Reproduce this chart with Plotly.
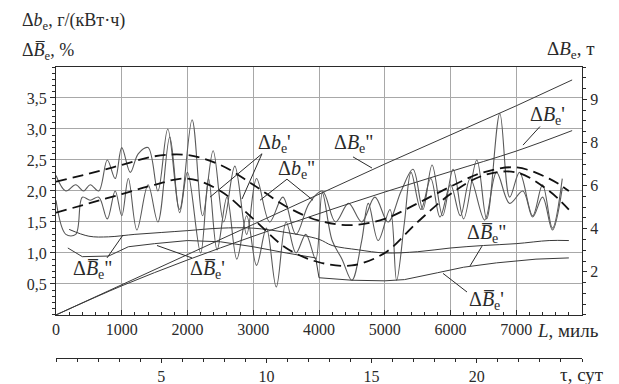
import plotly.graph_objects as go

# ---------------- data ----------------
# distance run, miles
L_TREND = [0, 500, 1000, 1500, 2000, 2500, 3000, 3500, 4000, 4500, 5000,
           5500, 6000, 6500, 7000, 7500, 7800]
# smoothed trends of specific fuel consumption deviation, g/(kW*h)
db1_trend = [2.15, 2.28, 2.42, 2.56, 2.58, 2.42, 2.1, 1.75, 1.52, 1.45, 1.55,
             1.8, 2.07, 2.3, 2.38, 2.2, 2.0]
db2_trend = [1.65, 1.8, 1.95, 2.1, 2.2, 2.0, 1.55, 1.08, 0.85, 0.8, 1.0,
             1.5, 1.95, 2.25, 2.3, 2.0, 1.7]

# measured specific fuel consumption deviation, g/(kW*h)
L_W1 = [0, 150, 300, 420, 520, 650, 780, 900, 1000, 1130, 1250, 1400, 1550,
        1700, 1880, 2070, 2230, 2390, 2550, 2720, 2900, 3050, 3250, 3450,
        3650, 3850, 4050, 4250, 4450, 4650, 4850, 5050, 5250, 5430, 5580,
        5720, 5880, 6040, 6200, 6400, 6550, 6750, 6900, 7050, 7250, 7400,
        7550, 7700]
db1 = [2.25, 2.0, 2.1, 2.0, 2.1, 2.0, 2.5, 2.2, 2.7, 2.3, 2.6, 2.7, 2.0,
       3.0, 1.7, 3.15, 1.6, 2.65, 1.5, 2.4, 1.3, 2.2, 1.5, 1.9, 1.3, 1.8,
       2.0, 1.5, 1.8, 1.5, 1.9, 1.5, 2.0, 2.35, 1.7, 2.42, 1.6, 2.35, 1.55,
       2.5, 1.55, 3.25, 1.9, 2.3, 1.6, 2.1, 1.4, 2.2]

L_W2 = [0, 150, 300, 400, 520, 650, 780, 900, 1000, 1100, 1230, 1400, 1550,
        1730, 1880, 2000, 2200, 2320, 2450, 2600, 2750, 2900, 3050, 3200,
        3350, 3500, 3650, 3800, 3950, 4050, 4200, 4350, 4500, 4650, 4750,
        4900, 5080, 5180, 5300, 5400, 5550, 5700, 5840, 6000, 6150, 6300,
        6520, 6700, 6900, 7100, 7250, 7400, 7550, 7700]
db2 = [1.85, 1.3, 1.3, 1.9, 1.85, 1.9, 1.55, 2.0, 1.6, 2.2, 1.37, 2.1, 1.5,
       2.87, 1.65, 2.3, 1.0, 2.2, 1.05, 1.9, 0.9, 1.6, 0.8, 1.4, 0.45, 1.5,
       1.0, 1.3, 0.9, 1.97, 1.2, 0.9, 0.56, 1.2, 1.8, 1.2, 1.7, 0.56, 1.5,
       2.3, 1.7, 2.2, 1.58, 2.1, 1.6, 2.2, 1.53, 2.3, 1.8, 2.0, 1.58, 1.9,
       1.37, 2.05]

# relative fuel overconsumption, %
L_BB2 = [200, 500, 800, 1200, 1600, 2000, 2500, 3000, 3500, 4000, 4200,
         4600, 5000, 5500, 6000, 6500, 7000, 7500, 7800]
bb2 = [1.38, 1.27, 1.26, 1.3, 1.33, 1.36, 1.4, 1.4, 1.33, 1.22, 1.12, 1.05,
       1.0, 1.02, 1.08, 1.12, 1.15, 1.2, 1.2]
L_BB1 = [180, 400, 800, 1100, 1500, 2000, 2500, 3000, 3500, 3950, 4000,
         4500, 5000, 5300, 5800, 6200, 6700, 7300, 7800]
bb1 = [1.08, 0.94, 0.95, 1.1, 1.15, 1.2, 1.18, 1.1, 1.0, 0.92, 0.6, 0.56,
       0.55, 0.57, 0.68, 0.77, 0.84, 0.9, 0.92]

# cumulative fuel overconsumption, t
L_B = [0, 1000, 2000, 3000, 4000, 5000, 6000, 7000, 7850]
B2 = [0, 1.4, 2.8, 4.2, 5.6, 7.0, 8.35, 9.7, 10.9]
B1 = [0, 1.35, 2.55, 3.65, 4.7, 5.7, 6.65, 7.6, 8.55]

# voyage time scale, days
TAU_RANGE = [0, 25]

# axis ticks
L_TICKS = [0, 1000, 2000, 3000, 4000, 5000, 6000, 7000]
TAU_TICKS = [5, 10, 15, 20]
LEFT_TICKS = [0.5, 1.0, 1.5, 2.0, 2.5, 3.0, 3.5]
RIGHT_TICKS = [2, 4, 6, 8, 10]
RIGHT_TEXT = ["2", "4", "6", "8", "9"]

# ---------------- style ----------------
FONT = '"Liberation Serif", "Times New Roman", "DejaVu Serif", serif'
INK = "#2a2a2a"
GRID = "#a8a8a8"

fig = go.Figure()

def add(x, y, color, width, dash="solid", shape="linear", axis="y"):
    fig.add_trace(go.Scatter(x=x, y=y, mode="lines", yaxis=axis,
                             line=dict(color=color, width=width, dash=dash,
                                       shape=shape, smoothing=1.0),
                             hoverinfo="skip", showlegend=False))

add(L_W1, db1, "#5a5a5a", 1.1, shape="spline")
add(L_W2, db2, "#5a5a5a", 1.1, shape="spline")
add(L_BB2, bb2, "#3a3a3a", 1.0, shape="spline")
add(L_BB1, bb1, "#3a3a3a", 1.0, shape="linear")
add(L_TREND, db1_trend, "#111111", 1.8, dash="11px,6px", shape="spline")
add(L_TREND, db2_trend, "#111111", 1.8, dash="11px,6px", shape="spline")
add(L_B, B2, "#3a3a3a", 1.0, axis="y2")
add(L_B, B1, "#3a3a3a", 1.0, shape="spline", axis="y2")

# an empty trace bound to the time axis so that the axis is rendered
fig.add_trace(go.Scatter(x=TAU_RANGE, y=[None, None], xaxis="x2",
                         yaxis="y", mode="lines", hoverinfo="skip",
                         showlegend=False))

# curve labels: text, position (L, left-axis value), leader segments
labels = [
    ("Δ<i>b</i><sub>е</sub>'", 3330, 2.77, [((3133, 2.60), (2342, 1.90)),
                                          ((3133, 2.60), (2829, 1.87))]),
    ("Δ<i>b</i><sub>е</sub>\"", 3665, 2.35, [((3513, 2.19), (3103, 1.85)),
                                           ((3513, 2.19), (3909, 1.85))]),
    ("Δ<i>B</i><sub>е</sub>\"", 4532, 2.76, [((4517, 2.55), (4806, 2.37))]),
    ("Δ<i>B</i><sub>е</sub>'", 7468, 3.21, [((7361, 3.04), (7103, 2.74))]),
    ("Δ<i>B̅</i><sub>е</sub>\"", 548, 0.73, [((776, 0.92), (1019, 1.29))]),
    ("Δ<i>B̅</i><sub>е</sub>'", 2297, 0.73, [((2068, 0.92), (1536, 1.12))]),
    ("Δ<i>B̅</i><sub>е</sub>\"", 6555, 1.32, [((6479, 1.11), (6297, 0.79))]),
    ("Δ<i>B̅</i><sub>е</sub>'", 6555, 0.24, [((6251, 0.37), (5886, 0.67))]),
]
for text, lx, ly, leaders in labels:
    fig.add_annotation(x=lx, y=ly, xref="x", yref="y", text=text,
                       showarrow=False, font=dict(family=FONT, size=20,
                                                  color=INK))
    for (x0, y0), (x1, y1) in leaders:
        fig.add_shape(type="line", xref="x", yref="y", x0=x0, y0=y0,
                      x1=x1, y1=y1, line=dict(color=INK, width=1))

# axis titles
def title(text, x, y, size=18):
    fig.add_annotation(x=x, y=y, xref="paper", yref="paper",
                       xanchor="left", yanchor="middle", showarrow=False,
                       text=text, font=dict(family=FONT, size=size,
                                            color=INK))

title("Δ<i>b</i><sub>е</sub>, г/(кВт·ч)", -0.068, 1.155)
title("Δ<i>B̅</i><sub>е</sub>, %", -0.068, 1.052)
title("Δ<i>B</i><sub>е</sub>, т", 0.930, 1.058, 19)
title("<i>L</i>, миль", 0.910, 0.094, 19)
title("τ, сут", 0.955, -0.058, 19)

tickfont = dict(family=FONT, size=16, color=INK)
DOM = [0.148, 1.0]

fig.update_layout(
    width=619, height=384,
    margin=dict(l=56, r=37, t=67, b=26, autoexpand=False),
    paper_bgcolor="white", plot_bgcolor="white",
    separators=", ",
    font=dict(family=FONT, color=INK),
    xaxis=dict(range=[0, 8000], tickvals=L_TICKS, ticks="inside",
               ticklen=5, tickcolor=INK, tickfont=tickfont,
               showgrid=True, gridcolor=GRID, gridwidth=1,
               showline=True, linecolor=INK, linewidth=1, mirror=True,
               zeroline=False, anchor="y", automargin=False,
               minor=dict(tickmode="linear", tick0=0, dtick=200,
                          ticks="inside", ticklen=3, tickcolor=INK,
                          showgrid=False)),
    xaxis2=dict(range=TAU_RANGE, domain=[0, 0.985], overlaying="x",
                anchor="free", position=0, side="bottom",
                tickvals=TAU_TICKS, ticks="outside", ticklen=4,
                tickcolor=INK, tickfont=tickfont, showgrid=False,
                zeroline=False, showline=True, linecolor=INK, linewidth=1,
                automargin=False,
                minor=dict(tickmode="linear", tick0=0, dtick=1,
                           ticks="outside", ticklen=3, tickcolor=INK)),
    yaxis=dict(range=[0, 4.0], domain=DOM, tickvals=LEFT_TICKS,
               tickformat=".1f", ticks="outside", ticklen=5, tickcolor=INK,
               tickfont=tickfont, showgrid=True, gridcolor=GRID,
               gridwidth=1, zeroline=False, showline=True, linecolor=INK,
               linewidth=1, automargin=False,
               minor=dict(tickmode="linear", tick0=0, dtick=0.1,
                          ticks="outside", ticklen=3, tickcolor=INK,
                          showgrid=False)),
    yaxis2=dict(range=[0, 11.5], overlaying="y", side="right", anchor="x",
                tickvals=RIGHT_TICKS, ticktext=RIGHT_TEXT, ticks="outside",
                ticklen=4, tickcolor=INK, tickfont=tickfont, showgrid=False,
                zeroline=False, showline=True, linecolor=INK, linewidth=1,
                automargin=False,
                minor=dict(tickmode="linear", tick0=0, dtick=0.5,
                           ticks="outside", ticklen=3, tickcolor=INK)),
)

fig.write_html("out.html")
